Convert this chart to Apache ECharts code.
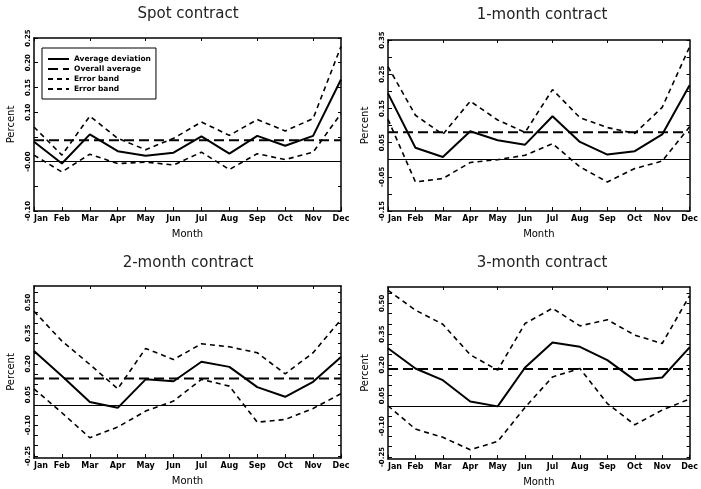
<!DOCTYPE html>
<html>
<head>
<meta charset="utf-8">
<script src="https://cdn.jsdelivr.net/npm/echarts@6/dist/echarts.min.js"></script>
<style>html,body{margin:0;padding:0;background:#fff}#c{width:701px;height:489px}</style>
</head>
<body>
<div id="c"></div>
<script>
const months = ['Jan','Feb','Mar','Apr','May','Jun','Jul','Aug','Sep','Oct','Nov','Dec'];

const titles = ['Spot contract','1-month contract','2-month contract','3-month contract'];

const spotAverage = [0.040, -0.004, 0.055, 0.021, 0.012, 0.018, 0.051, 0.016, 0.052, 0.032, 0.052, 0.166];
const spotUpper   = [0.070, 0.013, 0.092, 0.047, 0.024, 0.047, 0.080, 0.053, 0.085, 0.062, 0.087, 0.233];
const spotLower   = [0.013, -0.021, 0.015, -0.004, -0.001, -0.007, 0.019, -0.016, 0.016, 0.004, 0.019, 0.097];
const spotOverall = 0.043;

const month1Average = [0.194, 0.035, 0.008, 0.083, 0.057, 0.044, 0.127, 0.052, 0.015, 0.025, 0.074, 0.218];
const month1Upper   = [0.272, 0.130, 0.074, 0.171, 0.116, 0.080, 0.205, 0.123, 0.094, 0.077, 0.153, 0.330];
const month1Lower   = [0.118, -0.065, -0.055, -0.008, 0.000, 0.013, 0.047, -0.021, -0.065, -0.026, -0.004, 0.096];
const month1Overall = 0.080;

const month2Average = [0.262, 0.140, 0.013, -0.015, 0.124, 0.115, 0.210, 0.185, 0.086, 0.039, 0.112, 0.233];
const month2Upper   = [0.457, 0.311, 0.197, 0.078, 0.275, 0.221, 0.298, 0.283, 0.254, 0.151, 0.254, 0.416];
const month2Lower   = [0.078, -0.039, -0.161, -0.109, -0.031, 0.018, 0.124, 0.091, -0.085, -0.072, -0.018, 0.054];
const month2Overall = 0.128;

const month3Average = [0.281, 0.182, 0.125, 0.021, -0.003, 0.187, 0.309, 0.288, 0.223, 0.125, 0.138, 0.285];
const month3Upper   = [0.564, 0.467, 0.398, 0.249, 0.174, 0.402, 0.476, 0.390, 0.420, 0.345, 0.304, 0.537];
const month3Lower   = [0.000, -0.114, -0.154, -0.215, -0.174, -0.008, 0.141, 0.182, 0.011, -0.093, -0.021, 0.033];
const month3Overall = 0.179;

const spotTickLabels   = [-0.10, 0.00, 0.10, 0.15, 0.20, 0.25];
const month1TickLabels = [-0.15, -0.05, 0.05, 0.15, 0.25, 0.35];
const month2TickLabels = [-0.25, -0.10, 0.05, 0.20, 0.35, 0.50];
const month3TickLabels = [-0.25, -0.10, 0.05, 0.20, 0.35, 0.50];

const spotTickMarks   = [-0.10, -0.05, 0.00, 0.05, 0.10, 0.15, 0.20, 0.25];
const month1TickMarks = [-0.15, -0.10, -0.05, 0.00, 0.05, 0.10, 0.15, 0.20, 0.25, 0.30, 0.35];
const month2TickMarks = [-0.25, -0.20, -0.15, -0.10, -0.05, 0.00, 0.05, 0.10, 0.15, 0.20, 0.25, 0.30, 0.35, 0.40, 0.45, 0.50, 0.55];
const month3TickMarks = month2TickMarks;

const seriesNames = ['Average deviation', 'Overall average', 'Error band', 'Error band '];

const panels = [
  {avg: spotAverage, up: spotUpper, lo: spotLower, overall: spotOverall, labels: spotTickLabels, marks: spotTickMarks, min: -0.10, max: 0.25,
   grid: {left: 34, top: 38, width: 307, height: 173}, title: {x: 188, y: 7}},
  {avg: month1Average, up: month1Upper, lo: month1Lower, overall: month1Overall, labels: month1TickLabels, marks: month1TickMarks, min: -0.15, max: 0.35,
   grid: {left: 388, top: 40, width: 305, height: 171}, title: {x: 542, y: 8}},
  {avg: month2Average, up: month2Upper, lo: month2Lower, overall: month2Overall, labels: month2TickLabels, marks: month2TickMarks, min: -0.26, max: 0.58,
   grid: {left: 34, top: 286, width: 307, height: 172}, title: {x: 188, y: 256}},
  {avg: month3Average, up: month3Upper, lo: month3Lower, overall: month3Overall, labels: month3TickLabels, marks: month3TickMarks, min: -0.26, max: 0.58,
   grid: {left: 388, top: 287, width: 305, height: 172}, title: {x: 542, y: 256}}
];

const FONT = 'DejaVu Sans';
const grid = [], xAxis = [], yAxis = [], series = [], title = [];

panels.forEach((p, i) => {
  grid.push(Object.assign({show: false}, p.grid));
  title.push({
    text: titles[i], left: p.title.x, top: p.title.y, textAlign: 'center', padding: 0,
    textStyle: {fontFamily: FONT, fontSize: 15, fontWeight: 'normal', color: '#222'}
  });
  const axisLine = {show: true, onZero: false, lineStyle: {color: '#000', width: 1.5}};
  xAxis.push({
    type: 'category', data: months, gridIndex: i, boundaryGap: false, position: 'bottom',
    axisLine: axisLine,
    axisTick: {show: true, inside: true, length: 4, lineStyle: {color: '#000'}},
    axisLabel: {
      interval: 0, margin: 4, color: '#000', fontFamily: FONT, fontSize: 8, fontWeight: 'bold',
      formatter: (v, idx) => idx === 0 ? '{first|' + v + '}' : v,
      rich: {first: {padding: [0, 0, 0, 14], fontFamily: FONT, fontSize: 8, fontWeight: 'bold', color: '#000'}}
    },
    name: 'Month', nameLocation: 'middle', nameGap: 18,
    nameTextStyle: {fontFamily: FONT, fontSize: 10, color: '#000', verticalAlign: 'top'}
  });
  xAxis.push({
    type: 'category', data: months, gridIndex: i, boundaryGap: false, position: 'top',
    axisLine: axisLine,
    axisTick: {show: true, inside: true, length: 3, lineStyle: {color: '#000'}},
    axisLabel: {show: false}
  });
  yAxis.push({
    type: 'value', gridIndex: i, min: p.min, max: p.max, position: 'left',
    axisLine: axisLine,
    splitLine: {show: false},
    axisTick: {show: true, inside: true, length: 4, customValues: p.marks, lineStyle: {color: '#000'}},
    axisLabel: {
      rotate: 90, margin: 2, color: '#000', fontFamily: FONT, fontSize: 7, fontWeight: 'bold', customValues: p.labels,
      formatter: v => Math.abs(v) < 1e-9 ? '-0.00' : v.toFixed(2)
    },
    name: 'Percent', nameLocation: 'middle', nameGap: 18, nameRotate: 90,
    nameTextStyle: {fontFamily: FONT, fontSize: 10, color: '#000'}
  });
  yAxis.push({
    type: 'value', gridIndex: i, min: p.min, max: p.max, position: 'right',
    axisLine: axisLine,
    splitLine: {show: false},
    axisTick: {show: true, inside: true, length: 3, customValues: p.marks, lineStyle: {color: '#000'}},
    axisLabel: {show: false}
  });
  const xi = i * 2, yi = i * 2;
  series.push({
    type: 'line', name: seriesNames[0], xAxisIndex: xi, yAxisIndex: yi, data: p.avg,
    symbol: 'none', silent: true, color: '#000',
    lineStyle: {color: '#000', width: 2, type: 'solid'},
    markLine: {silent: true, symbol: 'none', label: {show: false}, animation: false,
      lineStyle: {color: '#000', width: 1, type: 'solid'}, data: [{yAxis: 0}]}
  });
  series.push({
    type: 'line', name: seriesNames[1], xAxisIndex: xi, yAxisIndex: yi, data: months.map(() => p.overall),
    symbol: 'none', silent: true, color: '#000',
    lineStyle: {color: '#000', width: 2, type: [10, 5]}
  });
  series.push({
    type: 'line', name: seriesNames[2], xAxisIndex: xi, yAxisIndex: yi, data: p.up,
    symbol: 'none', silent: true, color: '#000',
    lineStyle: {color: '#000', width: 1.6, type: [5, 4]}
  });
  series.push({
    type: 'line', name: seriesNames[3], xAxisIndex: xi, yAxisIndex: yi, data: p.lo,
    symbol: 'none', silent: true, color: '#000',
    lineStyle: {color: '#000', width: 1.6, type: [5, 4]}
  });
});

const chart = echarts.init(document.getElementById('c'), null, {renderer: 'canvas'});
chart.setOption({
  backgroundColor: '#fff',
  animation: false,
  title: title,
  legend: {
    show: true, orient: 'vertical', left: 42, top: 48, selectedMode: false,
    padding: [7, 5, 6, 5], itemGap: 2, itemWidth: 21, itemHeight: 8,
    borderColor: '#000', borderWidth: 1, backgroundColor: '#fff',
    itemStyle: {color: 'rgba(0,0,0,0)', borderColor: 'rgba(0,0,0,0)', borderWidth: 0, opacity: 0},
    data: seriesNames,
    textStyle: {fontFamily: FONT, fontSize: 7.5, fontWeight: 'bold', color: '#000', lineHeight: 8}
  },
  grid: grid, xAxis: xAxis, yAxis: yAxis, series: series
});
</script>
</body>
</html>
